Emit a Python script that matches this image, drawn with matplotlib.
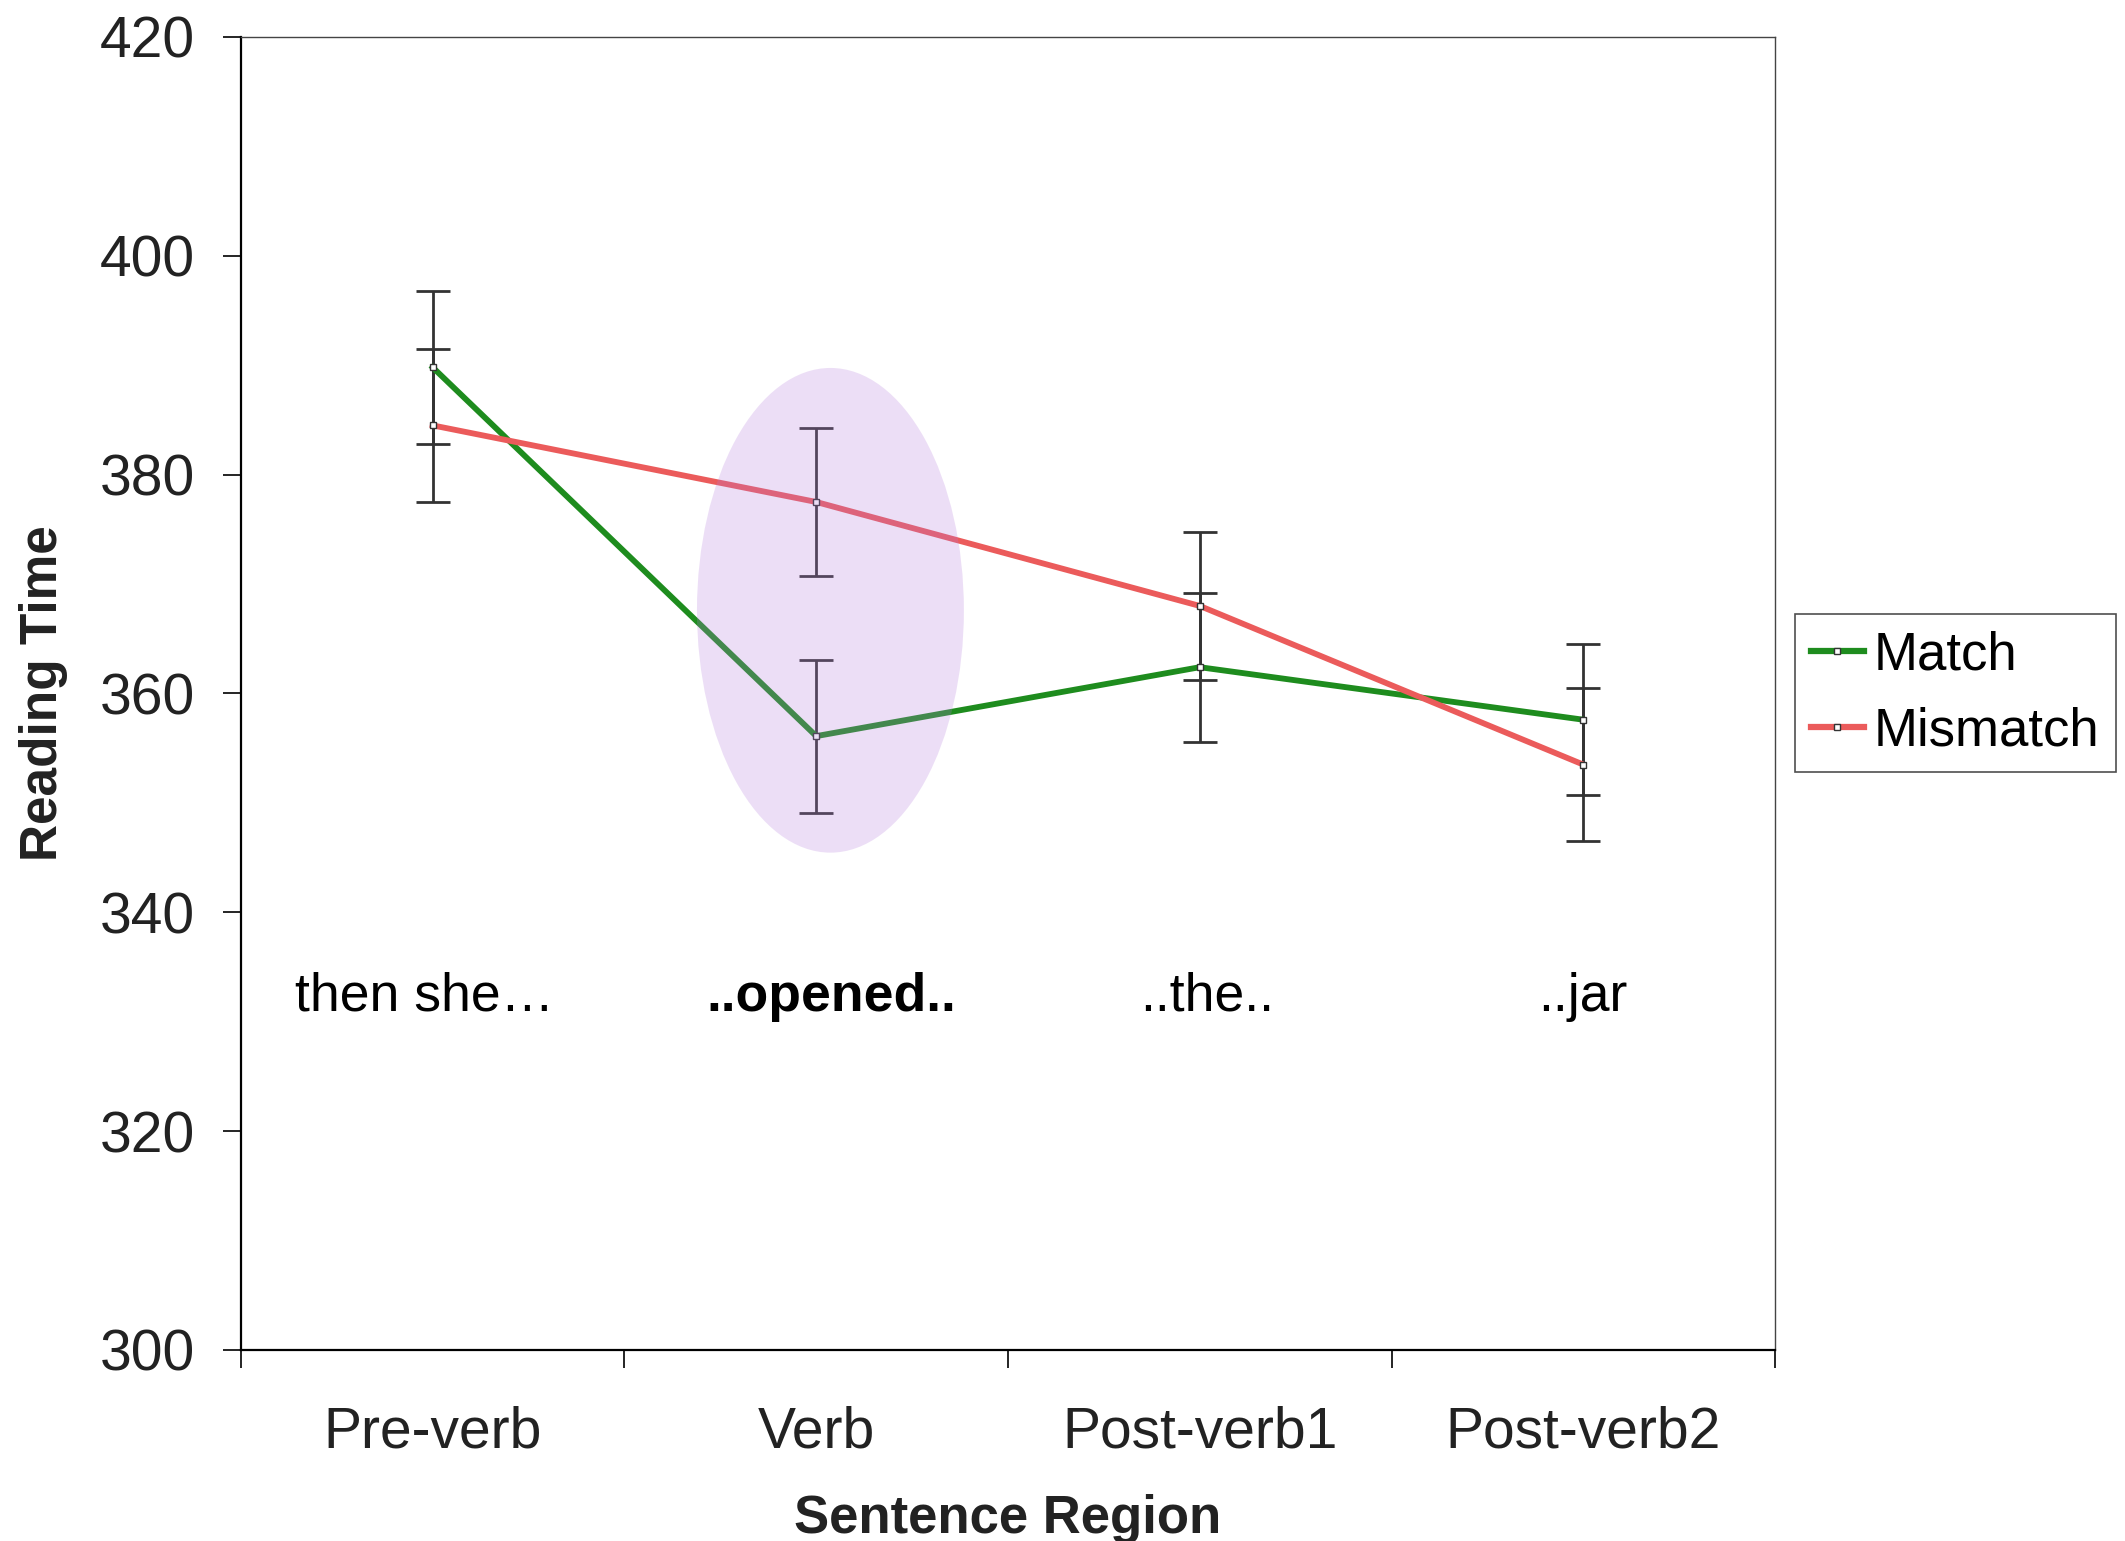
import matplotlib

matplotlib.use("Agg")
import matplotlib.pyplot as plt
from matplotlib.patches import Ellipse

plt.rcParams["font.family"] = ["Liberation Sans", "DejaVu Sans"]

# values
regions = ["Pre-verb", "Verb", "Post-verb1", "Post-verb2"]
words = ["then she\u2026", "..opened..", "..the..", "..jar"]
word_x = [0.48, 1.54, 2.52, 3.5]
word_y = 332.3
match = [389.8, 356.1, 362.4, 357.6]
match_err = [7.0, 7.0, 6.8, 6.9]
mismatch = [384.5, 377.5, 368.0, 353.5]
mismatch_err = [7.0, 6.8, 6.8, 7.0]

GREEN = "#1E8C1E"
RED = "#EB5B5B"

fig = plt.figure(figsize=(21.25, 15.41), dpi=100)
ax = fig.add_axes([0.1134, 0.124, 0.8353 - 0.1134, 0.976 - 0.124])

xs = [i + 0.5 for i in range(len(regions))]

for vals, err, color, label in [(match, match_err, GREEN, "Match"),
                                (mismatch, mismatch_err, RED, "Mismatch")]:
    ax.errorbar(xs, vals, yerr=err, fmt="none", ecolor="#333333",
                elinewidth=2, capsize=12, capthick=2, zorder=2)
    ax.plot(xs, vals, color=color, lw=4.2, marker="s", ms=4,
            mfc="white", mec="#333333", mew=1, label=label, zorder=3)

# highlight around the verb region
ax.add_patch(Ellipse((1.537, 367.6), 0.696, 44.3, facecolor="#B57EDC",
                     edgecolor="none", alpha=0.25, zorder=4))

for x, w in zip(word_x, words):
    ax.text(x, word_y, w, ha="center", va="center", fontsize=38.5,
            fontweight="bold" if w == "..opened.." else "normal")

ax.set_xlim(0, 4)
ax.set_ylim(300, 420)
ax.set_yticks(range(300, 421, 20))
ax.tick_params(axis="y", labelsize=41, length=13, width=1.2, pad=20,
               labelcolor="#222222")
ax.set_xticks([0, 1, 2, 3, 4])
ax.set_xticklabels([])
ax.tick_params(axis="x", which="major", length=13, width=1.2)
ax.set_xticks(xs, minor=True)
ax.set_xticklabels(regions, minor=True)
ax.tick_params(axis="x", which="minor", length=0, labelsize=41, pad=40,
               labelcolor="#222222")

for side in ["left", "bottom"]:
    ax.spines[side].set_linewidth(1.6)
for side in ["top", "right"]:
    ax.spines[side].set_linewidth(1.0)
    ax.spines[side].set_color("#444444")

ax.set_xlabel("Sentence Region", fontsize=38, fontweight="bold", color="#222222")
ax.xaxis.set_label_coords(0.5, -0.11)
ax.set_ylabel("Reading Time", fontsize=37, fontweight="bold", color="#222222")
ax.yaxis.set_label_coords(-0.113, 0.5)

leg = ax.legend(loc="center left", bbox_to_anchor=(1.013, 0.5), fontsize=38,
                frameon=True, fancybox=False, handlelength=1.0,
                handletextpad=0.2, borderpad=0.3, labelspacing=0.5,
                borderaxespad=0)
leg.get_frame().set_edgecolor("#222222")
leg.get_frame().set_linewidth(1.2)
for h in leg.legend_handles:
    h.set_linewidth(4.5)

fig.savefig("out.png", dpi=100)
